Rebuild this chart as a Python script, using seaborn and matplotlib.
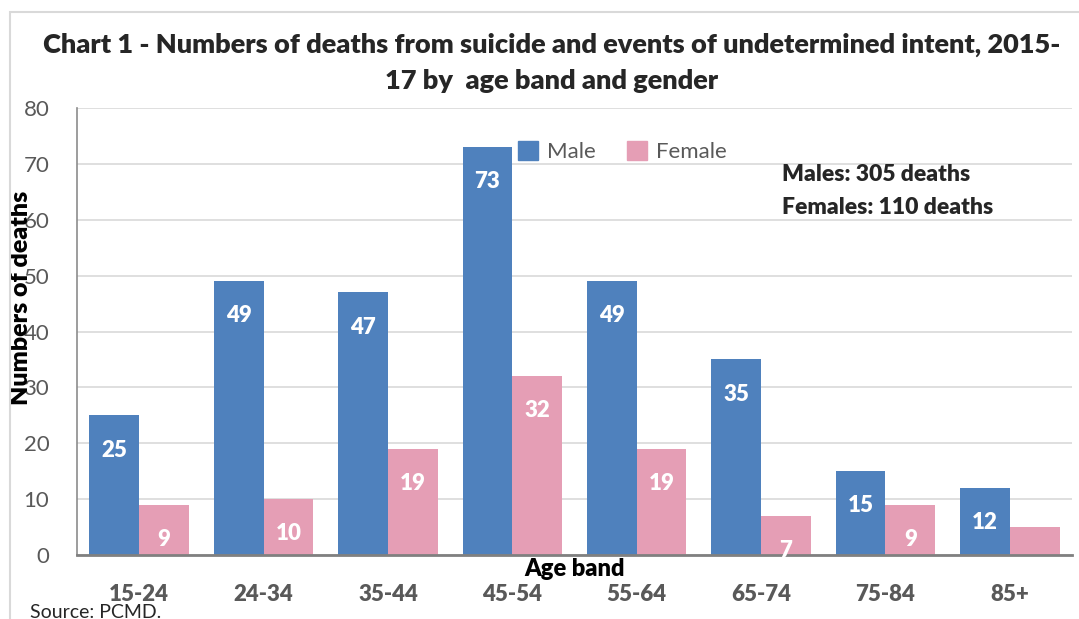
import pandas as pd
import matplotlib
matplotlib.use("Agg")
import matplotlib.pyplot as plt
import matplotlib.patches as mpatches
import seaborn as sns

# Datos del gráfico
age_bands = ["15-24", "24-34", "35-44", "45-54", "55-64", "65-74", "75-84", "85+"]
male_deaths = [25, 49, 47, 73, 49, 35, 15, 12]
female_deaths = [9, 10, 19, 32, 19, 7, 9, 5]
genders = ["Male", "Female"]
yticks = [0, 10, 20, 30, 40, 50, 60, 70, 80]

BLUE = "#4F81BD"
PINK = "#E59EB5"
GRAY = "#595959"
BOLD = "heavy"

df = pd.DataFrame({
    "age": age_bands * 2,
    "gender": ["Male"] * len(age_bands) + ["Female"] * len(age_bands),
    "deaths": male_deaths + female_deaths,
})

sns.set_theme(style="white")
plt.rcParams["font.family"] = ["Lato", "DejaVu Sans"]

fig = plt.figure(figsize=(10.79, 6.19), dpi=100)
ax = fig.add_axes([0.0714, 0.1034, 0.9221, 0.7221])

sns.barplot(data=df, x="age", y="deaths", hue="gender", hue_order=genders,
            order=age_bands, palette=[BLUE, PINK], width=0.8, saturation=1,
            linewidth=0, ax=ax, legend=False)

ax.set_ylim(0, 80)
ax.set_yticks(yticks)
ax.yaxis.grid(True, color="#D9D9D9", linewidth=1.2)
ax.set_axisbelow(True)
for s in ["top", "right"]:
    ax.spines[s].set_visible(False)
ax.spines["left"].set_color("#8C8C8C")
ax.spines["left"].set_linewidth(1.2)
ax.spines["bottom"].set_color("#808080")
ax.spines["bottom"].set_linewidth(2)
ax.tick_params(axis="y", length=0, pad=20, labelsize=16, labelcolor=GRAY)
ax.set_xticks(range(len(age_bands)))
ax.set_xticklabels(age_bands, fontweight=BOLD, fontsize=16, color=GRAY)
ax.tick_params(axis="x", length=0, pad=21)

ax.set_xlabel("Age band", fontsize=17, fontweight=BOLD, color="black", labelpad=-34)
ax.set_ylabel("Numbers of deaths", fontsize=18, fontweight=BOLD, color="black")
ax.yaxis.set_label_coords(-0.045, 0.575)

# etiquetas de valores dentro de las barras
for container, vals in zip(ax.containers, [male_deaths, female_deaths]):
    for bar, v in zip(container, vals):
        if v < 6:
            continue
        ax.annotate(str(v), (bar.get_x() + bar.get_width() / 2, v),
                    xytext=(0, -25), textcoords="offset points",
                    ha="center", va="center", color="white",
                    fontsize=16, fontweight=BOLD)

handles = [mpatches.Patch(color=BLUE, label="Male"),
           mpatches.Patch(color=PINK, label="Female")]
leg = fig.legend(handles=handles, loc="center", bbox_to_anchor=(0.577, 0.755),
                 ncol=2, frameon=False, fontsize=16, handlelength=0.9,
                 handleheight=0.9, columnspacing=1.4, handletextpad=0.4)
for t in leg.get_texts():
    t.set_color(GRAY)

fig.text(0.725, 0.718, "Males: 305 deaths", fontsize=16.5, fontweight=BOLD, va="center")
fig.text(0.725, 0.664, "Females: 110 deaths", fontsize=16.5, fontweight=BOLD, va="center")

fig.text(0.511, 0.927, "Chart 1 - Numbers of deaths from suicide and events of undetermined intent, 2015-",
         ha="center", va="center", fontsize=19.5, fontweight=BOLD)
fig.text(0.511, 0.869, "17 by  age band and gender",
         ha="center", va="center", fontsize=19.5, fontweight=BOLD)

fig.text(0.028, -0.004, "Source: PCMD.", fontsize=14, va="bottom")

fig.patches.append(mpatches.Rectangle((0.009, -0.1), 1.1, 1.081, transform=fig.transFigure,
                                      fill=False, edgecolor="#D9D9D9", linewidth=1.5))

fig.savefig("out.png", dpi=100)
